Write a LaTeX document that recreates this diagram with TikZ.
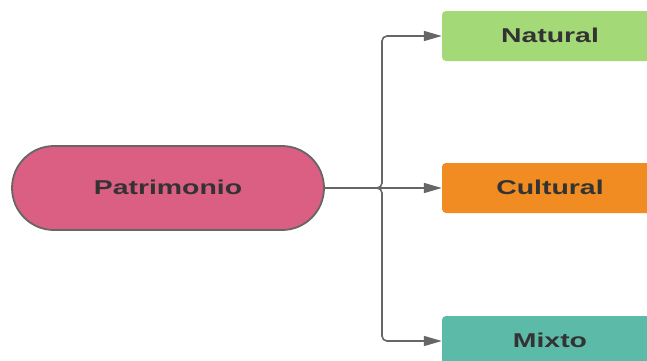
\documentclass[tikz,border=0pt]{standalone}
\usepackage{fontspec}
\setmainfont{Liberation Sans}
\usetikzlibrary{arrows.meta}
\definecolor{pillc}{HTML}{DB5E83}
\definecolor{natc}{HTML}{A3D977}
\definecolor{culc}{HTML}{F08C22}
\definecolor{mixc}{HTML}{5CBBA8}
\definecolor{linec}{HTML}{666666}
\definecolor{txtc}{HTML}{333333}
\newcommand{\wtxt}[1]{\raisebox{2.5pt}{\scalebox{1.42}[1]{\fontsize{20pt}{23pt}\selectfont\bfseries #1}}}
\tikzset{
  catbox/.style={rectangle, rounded corners=4pt, minimum width=216pt, minimum height=50pt, inner sep=0pt, text=txtc},
  conn/.style={draw=linec, line width=1.6pt, rounded corners=5pt, -{Triangle[length=18pt,width=10pt]}}
}
\begin{document}
\begin{tikzpicture}[x=1pt,y=-1pt]
\useasboundingbox (0,0) rectangle (647,360);
\clip (0,0) rectangle (647,360);
\fill[white] (0,0) rectangle (647,360);
\node[rectangle, rounded corners=42pt, minimum width=312pt, minimum height=84pt, fill=pillc, draw=linec, line width=1.8pt, inner sep=0pt, text=txtc] (p) at (168,188) {\wtxt{Patrimonio}};
\node[catbox, fill=natc] (n) at (550,36) {\wtxt{Natural}};
\node[catbox, fill=culc] (c) at (550,188) {\wtxt{Cultural}};
\node[catbox, fill=mixc] (m) at (550,341) {\wtxt{Mixto}};
\coordinate (j) at (382,188);
\draw[conn] (p.east) -- (j) |- (n.west);
\draw[conn] (p.east) -- (c.west);
\draw[conn] (p.east) -- (j) |- (m.west);
\end{tikzpicture}
\end{document}
